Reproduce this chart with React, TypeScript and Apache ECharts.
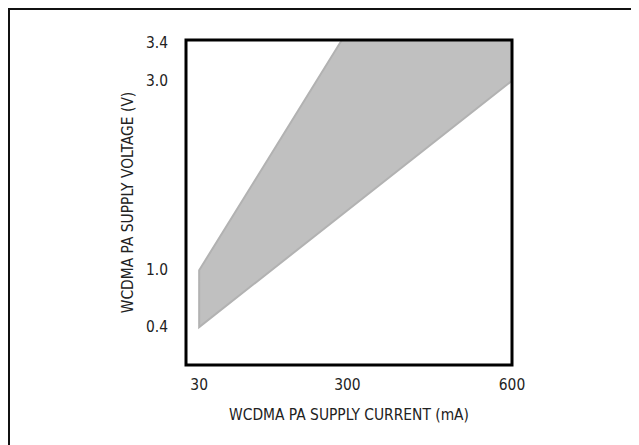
import React, { useEffect, useRef } from "react";
import * as echarts from "echarts";

// Axis ticks (labels shown)
const xTicks = [30, 300, 600];
const yTicks = [0.4, 1.0, 3.0, 3.4];
// Axis extents
const xRange = [6, 600];
const yRange = [0, 3.43];
// Boundary of the shaded operating region: supply current (mA) / supply voltage (V)
const regionCurrent = [30, 30, 290, 600, 600];
const regionVoltage = [0.4, 1.0, 3.43, 3.43, 3.0];

const xTitle = "WCDMA PA SUPPLY CURRENT (mA)";
const yTitle = "WCDMA PA SUPPLY VOLTAGE (V)";

const FONT = "'DejaVu Sans Condensed', 'Liberation Sans Narrow', sans-serif";
const TEXT = "#222";
const FS = 15.4;

export default function App() {
  const ref = useRef<HTMLDivElement>(null);

  useEffect(() => {
    if (!ref.current) return;
    const chart = echarts.init(ref.current, undefined, { renderer: "svg" });
    const region = regionCurrent.map((c, i) => [c, regionVoltage[i]]);
    chart.setOption({
      animation: false,
      backgroundColor: "#fff",
      grid: {
        left: 176,
        top: 30,
        width: 326,
        height: 325,
        show: true,
        borderColor: "#000",
        borderWidth: 3,
        backgroundColor: "transparent",
      },
      xAxis: {
        type: "value",
        min: xRange[0],
        max: xRange[1],
        name: xTitle,
        nameLocation: "middle",
        nameGap: 42,
        nameTextStyle: { fontFamily: FONT, fontSize: FS, color: TEXT },
        axisLine: { show: false },
        axisTick: { show: false },
        splitLine: { show: false },
        axisLabel: {
          customValues: xTicks,
          margin: 12,
          fontFamily: FONT,
          fontSize: FS,
          color: TEXT,
          formatter: (v: number) => String(v),
        },
      },
      yAxis: {
        type: "value",
        min: yRange[0],
        max: yRange[1],
        name: yTitle,
        nameLocation: "middle",
        nameGap: 48,
        nameTextStyle: { fontFamily: FONT, fontSize: FS, color: TEXT },
        axisLine: { show: false },
        axisTick: { show: false },
        splitLine: { show: false },
        axisLabel: {
          customValues: yTicks,
          margin: 18,
          fontFamily: FONT,
          fontSize: FS,
          color: TEXT,
          formatter: (v: number) => v.toFixed(1),
        },
      },
      series: [
        {
          type: "custom",
          z: -1,
          clip: true,
          data: region,
          renderItem: (params: any, api: any) => {
            if (params.dataIndex !== 0) return null;
            const pts = region.map((p) => api.coord(p));
            return {
              type: "polygon",
              shape: { points: pts },
              style: { fill: "#c0c0c0", stroke: "#b2b2b2", lineWidth: 2 },
            };
          },
        },
      ],
    });
    return () => chart.dispose();
  }, []);

  return (
    <div style={{ width: 639, height: 445, border: "2px solid #111", boxSizing: "content-box" }}>
      <div ref={ref} style={{ width: 639, height: 445 }} />
    </div>
  );
}
